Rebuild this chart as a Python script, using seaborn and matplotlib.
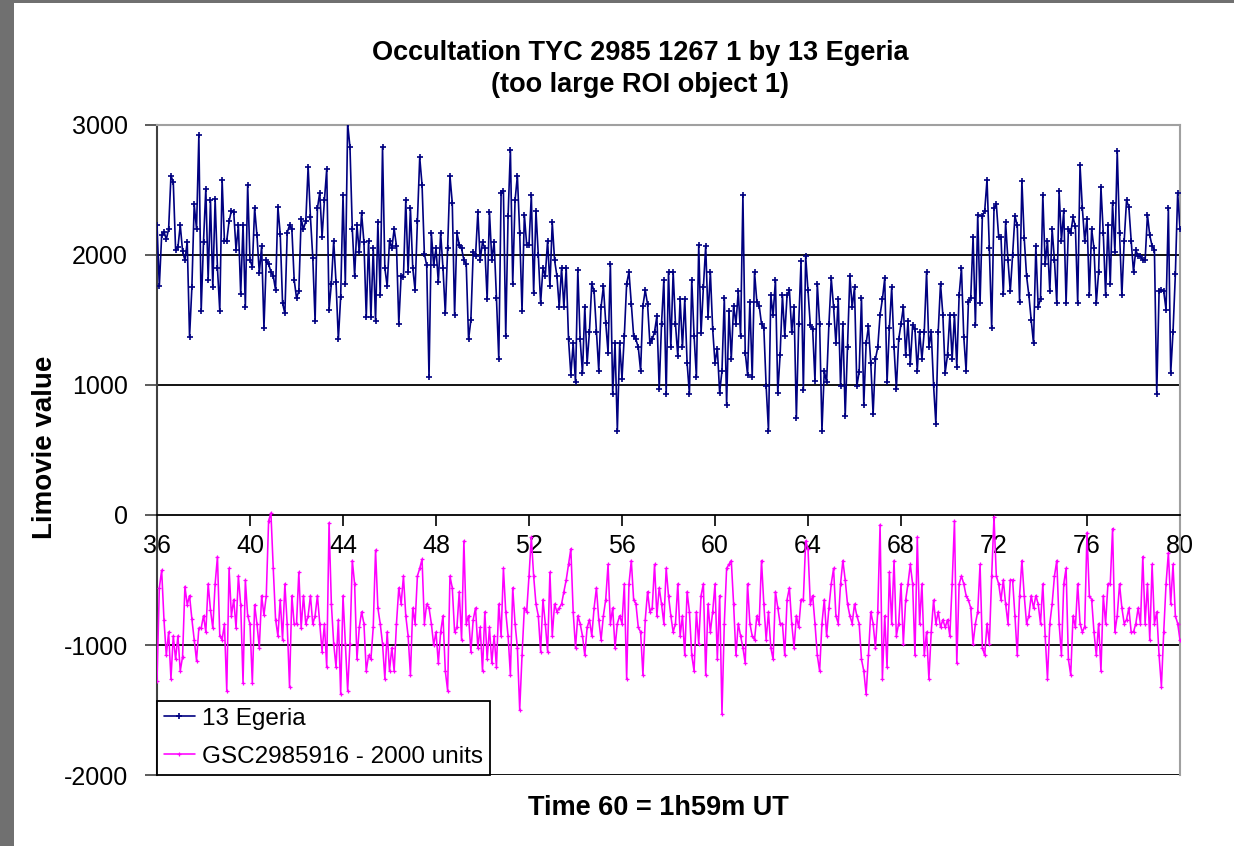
import numpy as np
import pandas as pd
import matplotlib
matplotlib.use("Agg")
import matplotlib.pyplot as plt
import seaborn as sns
from matplotlib.patches import Rectangle

# ---- data (10 samples per second, t = 36 .. 80) ----
egeria = [
    2230, 1760, 2150, 2180, 2120, 2200, 2610, 2560, 2040, 2060,   # 36
    2230, 2030, 1960, 2100, 1370, 1750, 2390, 2200, 2920, 1570,   # 37
    2100, 2510, 1810, 2420, 1750, 2430, 1900, 1570, 2580, 2110,   # 38
    2110, 2260, 2340, 2330, 2040, 2230, 1700, 2230, 1600, 2540,   # 39
    1960, 1910, 2360, 2150, 1860, 2070, 1440, 1960, 1930, 1870,   # 40
    1840, 1730, 2370, 2160, 1630, 1550, 2170, 2230, 2200, 1810,   # 41
    1670, 1720, 2280, 2200, 2260, 2680, 2290, 1980, 1490, 2360,   # 42
    2480, 2140, 2420, 2660, 1580, 1780, 2110, 1790, 1350, 1680,   # 43
    2460, 1780, 3010, 2830, 2200, 1840, 2230, 2020, 2320, 2100,   # 44
    1520, 2110, 1520, 2050, 1490, 2250, 1690, 2830, 1900, 1760,   # 45
    2110, 2050, 2200, 2070, 1470, 1840, 1830, 2420, 1870, 2360,   # 46
    1900, 1730, 2260, 2750, 2540, 2010, 1920, 1060, 2170, 1920,   # 47
    2050, 1790, 2170, 1900, 1550, 2050, 2610, 2400, 1540, 2170,   # 48
    2080, 2050, 1960, 1930, 1350, 1500, 2020, 1990, 2330, 1960,   # 49
    2100, 2050, 1660, 2330, 1960, 2100, 1670, 1200, 2480, 2490,   # 50
    1380, 2300, 2810, 1780, 2420, 2610, 2170, 1570, 2310, 2080,   # 51
    2080, 2460, 1710, 2340, 2000, 1630, 1900, 1840, 2110, 1760,   # 52
    2250, 1960, 1840, 1600, 1900, 1600, 1900, 1350, 1080, 1320,   # 53
    1020, 1885, 1350, 1090, 1600, 1170, 1410, 1780, 1720, 1410,   # 54
    1110, 1600, 1760, 1480, 1250, 1930, 930, 1320, 650, 1320,     # 55
    1050, 1380, 1780, 1870, 1620, 1380, 1350, 1290, 1110, 1610,   # 56
    1730, 1620, 1320, 1350, 1410, 1530, 970, 1470, 1810, 930,     # 57
    1870, 1290, 1870, 1470, 1220, 1660, 1290, 1660, 1170, 930,    # 58
    1810, 1380, 1060, 2080, 1400, 1750, 2070, 1520, 1870, 1430,   # 59
    1170, 1280, 940, 1110, 1670, 850, 1570, 1200, 1610, 1470,     # 60
    1720, 1380, 2460, 1250, 1080, 1640, 1060, 1870, 1640, 1610,   # 61
    1470, 1440, 990, 650, 1690, 1540, 1810, 940, 1230, 1690,      # 62
    1380, 1690, 1730, 1410, 1600, 745, 1470, 1950, 960, 1990,     # 63
    1730, 1460, 1430, 1030, 1780, 1470, 650, 1110, 1020, 1470,    # 64
    1820, 1600, 1320, 1660, 990, 1470, 760, 1290, 1840, 1600,     # 65
    1750, 990, 1100, 1670, 850, 1320, 1450, 1170, 775, 1200,      # 66
    1290, 1540, 1660, 1820, 1020, 1440, 1750, 1290, 970, 1350,    # 67
    1470, 1600, 1230, 1490, 1160, 1460, 1430, 1110, 1410, 1200,   # 68
    1410, 1870, 1290, 1410, 1000, 700, 1410, 1780, 1540, 1095,    # 69
    1230, 1540, 1200, 1540, 1140, 1690, 1900, 1370, 1110, 1640,   # 70
    1670, 2140, 1460, 2310, 1630, 2300, 2340, 2580, 2050, 1440,   # 71
    2360, 2390, 2140, 2140, 1700, 2250, 1960, 1720, 2000, 2300,   # 72
    2230, 1640, 2570, 2130, 1840, 1690, 1500, 1320, 2070, 1600,   # 73
    1660, 2460, 1930, 2110, 1720, 2200, 1960, 1630, 2490, 2110,   # 74
    2340, 1630, 2200, 2170, 2290, 2220, 1630, 2690, 2360, 2110,   # 75
    2280, 1690, 2200, 2050, 1630, 1870, 2520, 2170, 1690, 2230,   # 76
    1780, 2400, 2020, 2800, 2170, 1690, 2110, 2420, 2370, 2110,   # 77
    1870, 2040, 1990, 1990, 1960, 1960, 2310, 2150, 2070, 2040,   # 78
    930, 1720, 1730, 1720, 1580, 2360, 1090, 1410, 1850, 2480,    # 79
    2200,                                                         # 80
]

gsc_minus_2000 = [
    -1280, -560, -425, -805, -1080, -900, -1260, -930, -1110, -930,   # 36
    -1200, -1090, -550, -690, -620, -800, -960, -1120, -870, -870,    # 37
    -775, -900, -530, -730, -870, -530, -320, -930, -960, -840,       # 38
    -1350, -410, -775, -650, -870, -470, -690, -1290, -500, -775,     # 39
    -840, -1290, -690, -840, -1020, -620, -770, -620, -45, 15,        # 40
    -410, -805, -930, -650, -960, -530, -840, -1320, -620, -840,      # 41
    -840, -440, -870, -620, -840, -775, -620, -840, -775, -620,       # 42
    -840, -1050, -840, -1170, -60, -685, -990, -1170, -805, -1380,    # 43
    -620, -990, -1350, -990, -350, -530, -1110, -865, -745, -835,     # 44
    -1200, -1080, -1110, -865, -270, -715, -835, -990, -1260, -900,   # 45
    -1200, -1020, -1200, -835, -560, -685, -470, -775, -930, -1230,   # 46
    -715, -835, -470, -410, -340, -835, -685, -715, -835, -1000,      # 47
    -900, -1140, -900, -775, -1200, -1350, -470, -560, -900, -865,    # 48
    -590, -960, -200, -835, -775, -1050, -805, -715, -1020, -865,     # 49
    -1200, -745, -1110, -865, -1140, -930, -1170, -685, -930, -410,   # 50
    -745, -930, -1230, -560, -835, -1020, -1500, -1080, -715, -745,   # 51
    -470, -170, -470, -685, -775, -1050, -650, -835, -1050, -440,     # 52
    -930, -685, -745, -715, -685, -590, -500, -380, -260, -745,       # 53
    -1020, -775, -835, -930, -1080, -865, -805, -930, -715, -560,     # 54
    -805, -960, -775, -650, -380, -835, -715, -1020, -835, -775,      # 55
    -835, -530, -1260, -530, -350, -650, -685, -865, -900, -1230,     # 56
    -805, -590, -745, -715, -380, -775, -560, -685, -835, -410,       # 57
    -620, -775, -900, -835, -530, -930, -775, -1080, -590, -745,      # 58
    -1080, -1200, -745, -990, -620, -530, -1230, -685, -900, -745,    # 59
    -530, -1110, -620, -1530, -835, -410, -380, -350, -685, -1080,    # 60
    -835, -930, -1020, -1140, -530, -835, -930, -960, -775, -835,     # 61
    -350, -685, -960, -745, -1020, -1110, -590, -715, -835, -835,     # 62
    -1080, -650, -560, -835, -1020, -775, -865, -650, -650, -200,     # 63
    -260, -685, -620, -835, -1080, -1200, -835, -650, -930, -715,     # 64
    -530, -410, -775, -835, -530, -350, -500, -685, -775, -835,       # 65
    -685, -775, -835, -1110, -1200, -1380, -1080, -745, -835, -1020,  # 66
    -745, -75, -1260, -775, -1170, -440, -835, -350, -930, -835,      # 67
    -530, -990, -655, -530, -380, -530, -1080, -170, -835, -530,      # 68
    -1080, -900, -1260, -900, -655, -835, -745, -865, -805, -865,     # 69
    -805, -930, -530, -45, -1140, -530, -470, -530, -620, -655,       # 70
    -715, -990, -835, -745, -380, -1020, -1080, -835, -990, -470,     # 71
    -15, -470, -530, -655, -500, -685, -835, -500, -500, -775,        # 72
    -1080, -620, -350, -620, -835, -775, -620, -715, -620, -685,      # 73
    -835, -530, -930, -1260, -835, -685, -470, -350, -835, -1080,     # 74
    -530, -410, -1110, -1230, -775, -865, -530, -835, -900, -860,     # 75
    -135, -620, -650, -900, -1080, -835, -1200, -620, -835, -530,     # 76
    -530, -105, -900, -775, -530, -715, -835, -805, -715, -900,       # 77
    -900, -835, -715, -835, -320, -835, -530, -960, -380, -835,       # 78
    -745, -1080, -1320, -900, -530, -290, -685, -380, -775, -835,     # 79
    -960,                                                             # 80
]

t_start = 36.0
t_step = 0.1
time = [round(t_start + i * t_step, 2) for i in range(len(egeria))]

x_ticks = [36, 40, 44, 48, 52, 56, 60, 64, 68, 72, 76, 80]
y_ticks = [-2000, -1000, 0, 1000, 2000, 3000]
series_names = ["13 Egeria", "GSC2985916 - 2000 units"]
title_text = "Occultation TYC 2985 1267 1 by 13 Egeria\n(too large ROI object 1)"
x_label = "Time 60 = 1h59m UT"
y_label = "Limovie value"

df = pd.DataFrame({"time": time, "egeria": egeria, "gsc": gsc_minus_2000})

# ---- figure ----
sns.set_theme(style="white")
plt.rcParams["font.family"] = ["Liberation Sans", "DejaVu Sans"]
plt.rcParams["text.color"] = "black"
plt.rcParams["axes.labelcolor"] = "black"
plt.rcParams["xtick.color"] = "black"
plt.rcParams["ytick.color"] = "black"
plt.rcParams["axes.unicode_minus"] = False

W, H = 1234, 846
fig = plt.figure(figsize=(W / 100, H / 100), dpi=100)
fig.patch.set_facecolor("#707070")
fig.patches.append(Rectangle((14 / W, 0), 1 - 14 / W, 1 - 3 / H,
                             transform=fig.transFigure, facecolor="white",
                             edgecolor="none", zorder=-10))

ax = fig.add_axes([157 / W, (H - 775) / H, 1023 / W, 650 / H])
ax.set_zorder(2)
ax.set_facecolor("white")

for yv in [-2000, -1000, 1000, 2000]:
    ax.axhline(yv, color="black", lw=1.3, zorder=1)

sns.lineplot(data=df, x="time", y="egeria", ax=ax, color="#000080",
             lw=1.2, marker="+", markersize=4.5, markeredgewidth=1.2,
             markeredgecolor="#000080", estimator=None, sort=False,
             label=series_names[0], zorder=3)
sns.lineplot(data=df, x="time", y="gsc", ax=ax, color="#FF00FF",
             lw=1.15, marker="+", markersize=2.5, markeredgewidth=0.9,
             markeredgecolor="#FF00FF", estimator=None, sort=False,
             label=series_names[1], zorder=3)

ax.set_xlim(36, 80)
ax.set_ylim(-2000, 3000)
ax.set_xticks(x_ticks)
ax.set_yticks(y_ticks)
ax.set_xlabel("")
ax.set_ylabel("")

ax.spines["bottom"].set_position(("data", 0))
ax.spines["bottom"].set_color("black")
ax.spines["bottom"].set_linewidth(1.3)
ax.spines["left"].set_color("#404040")
ax.spines["left"].set_linewidth(1.5)
for s in ["top", "right"]:
    ax.spines[s].set_color("#a0a0a0")
    ax.spines[s].set_linewidth(1.5)

ax.tick_params(axis="x", which="major", direction="out", length=8, width=1.2,
               color="black", pad=6, labelsize=18, bottom=True)
ax.tick_params(axis="y", which="major", direction="out", length=9, width=1.2,
               color="#404040", pad=12, labelsize=18, left=True)

leg = ax.legend(loc="lower left", bbox_to_anchor=(0, 0), borderaxespad=0,
                fontsize=17.5, frameon=True, fancybox=False, framealpha=1,
                edgecolor="black", handlelength=1.25, handletextpad=0.3,
                borderpad=0.3, labelspacing=0.65)
leg.get_frame().set_linewidth(1.3)
leg.set_zorder(5)

fig.text(640 / W, 1 - 69 / H, title_text, ha="center", va="center",
         fontsize=19.5, fontweight="bold", linespacing=1.35)
fig.text(658 / W, 1 - 808 / H, x_label, ha="center", va="center",
         fontsize=19.5, fontweight="bold")
fig.text(45 / W, 1 - 447 / H, y_label, ha="center", va="center",
         fontsize=20, fontweight="bold", rotation=90)

fig.savefig("out.png", dpi=100, facecolor=fig.get_facecolor())
